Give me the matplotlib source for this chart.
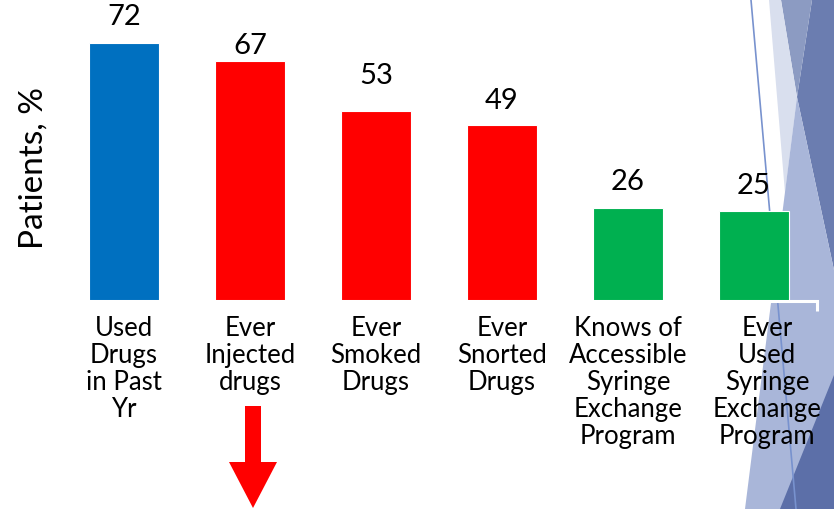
import matplotlib
matplotlib.use("Agg")
import matplotlib.pyplot as plt
from matplotlib.patches import Polygon
import matplotlib.transforms as mtransforms

plt.rcParams['font.family'] = ['Lato', 'DejaVu Sans']

categories = [
    "Used\nDrugs\nin Past\nYr",
    "Ever\nInjected\ndrugs",
    "Ever\nSmoked\nDrugs",
    "Ever\nSnorted\nDrugs",
    "Knows of\nAccessible\nSyringe\nExchange\nProgram",
    "Ever\nUsed\nSyringe\nExchange\nProgram",
]
values = [72, 67, 53, 49, 26, 25]
colors = ["#0070C0", "#FF0000", "#FF0000", "#FF0000", "#00B050", "#00B050"]
y_label = "Patients, %"

# gap (px) between each bar top and the baseline of its value label
label_gap_px = [17.6, 7.0, 26.6, 16.0, 17.6, 17.0]

W, H = 834, 509
fig = plt.figure(figsize=(W / 100, H / 100), dpi=100)

# slide theme decoration on the right edge (pixel coordinates, y downwards)
bg = fig.add_axes([0, 0, 1, 1], zorder=0)
bg.set_xlim(0, W)
bg.set_ylim(H, 0)
bg.axis("off")
shapes = [
    ([(812, 0), (834, 0), (834, 270), (797, 97)], "#6B7DB0"),
    ([(781, 0), (812, 0), (797, 97)], "#8C9BC2"),
    ([(769, 0), (781, 0), (797, 97), (785, 193)], "#D9DFEE"),
    ([(797, 97), (834, 270), (834, 509), (745, 509)], "#A9B6D9"),
    ([(834, 375), (834, 509), (780, 509)], "#5C6FA8"),
]
for pts, c in shapes:
    bg.add_patch(Polygon(pts, closed=True, facecolor=c, edgecolor="none"))
bg.plot([751, 796], [0, 509], color="#7892CE", lw=1.2)

# main bar chart
ax = fig.add_axes([61 / W, (H - 300.5) / H, 756 / W, 286 / H], zorder=1)
ax.patch.set_alpha(0)
x = list(range(len(values)))
bars = ax.bar(x, values, width=0.56, color=colors, edgecolor="white",
              linewidth=0.8, zorder=2)
ax.set_xlim(-0.5, len(values) - 0.5)
ax.set_ylim(0, 80)

for xi, v, gap in zip(x, values, label_gap_px):
    ax.annotate(str(v), (xi, v), xytext=(0, gap * 0.72),
                textcoords="offset points", ha="center", va="baseline",
                fontsize=21, color="black")

for s in ("left", "right", "top"):
    ax.spines[s].set_visible(False)
ax.spines["bottom"].set_color("white")
ax.spines["bottom"].set_linewidth(2.2)
ax.spines["bottom"].set_zorder(3)
ax.set_yticks([])
ax.set_xticks(x)
ax.set_xticklabels(categories, fontsize=18.5, linespacing=1.10)
ax.tick_params(axis="x", which="major", length=0, pad=11)
ax.set_xticks([i - 0.5 for i in range(len(values) + 1)], minor=True)
ax.tick_params(axis="x", which="minor", length=7.5, width=2.2,
               color="white", direction="out")

# the last label sits a little to the right of its bar
last = ax.get_xticklabels()[-1]
last.set_transform(last.get_transform() +
                   mtransforms.ScaledTranslation(13 / 100, 0, fig.dpi_scale_trans))

fig.text(34 / W, 1 - 168 / H, y_label, rotation=90, ha="center",
         va="center", fontsize=24)

# down arrow under the injected-drugs category
tr = mtransforms.blended_transform_factory(ax.transData, fig.transFigure)
cx = 1 + 3 / 126
hw_shaft = 8 / 126
hw_head = 24 / 126
def fy(py):
    return 1 - py / H
arrow = [
    (cx - hw_shaft, fy(406)), (cx + hw_shaft, fy(406)),
    (cx + hw_shaft, fy(462)), (cx + hw_head, fy(462)),
    (cx, fy(508)), (cx - hw_head, fy(462)), (cx - hw_shaft, fy(462)),
]
ax.add_patch(Polygon(arrow, closed=True, transform=tr, facecolor="#FF0000",
                     edgecolor="none", clip_on=False, zorder=4))

fig.savefig("out.png", dpi=100)
